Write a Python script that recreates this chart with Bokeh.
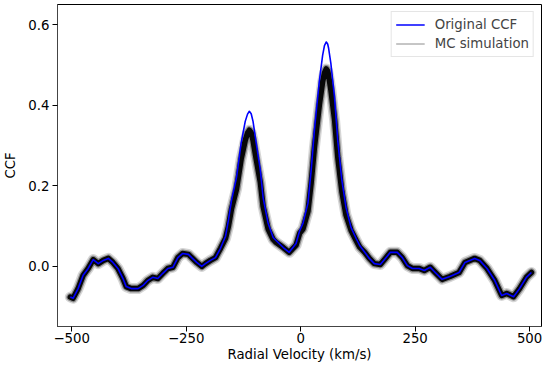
from bokeh.plotting import figure
from bokeh.models import Range1d, FixedTicker, Legend, LegendItem, CustomJSTickFormatter
from bokeh.embed import file_html
from bokeh.resources import INLINE

# Radial velocity grid (km/s)
rv = [-503, -497, -486, -475, -464, -453, -442, -431, -420, -410, -399, -388, -381, -370,
      -355, -344, -334, -323, -312, -301, -290, -279, -268, -258, -245, -238, -227, -216,
      -208, -197, -186, -175, -164, -158, -151, -140, -130, -121, -116, -112, -108, -104,
      -97, -88, -82, -71, -60, -54, -38, -25, -10, -2, 5, 16, 23, 30, 41, 48, 52, 56, 59,
      61, 66, 74, 81, 90, 99, 110, 121, 129, 140, 150, 161, 174, 185, 196, 211, 222, 233,
      244, 259, 270, 283, 294, 309, 326, 346, 359, 380, 391, 407, 424, 439, 450, 465, 478,
      493, 504]

# Original CCF (blue)
ccf = [-0.076, -0.079, -0.055, -0.022, -0.005, 0.017, 0.007, 0.015, 0.020, 0.010, -0.005,
       -0.030, -0.050, -0.055, -0.055, -0.047, -0.035, -0.027, -0.030, -0.017, -0.005,
       -0.002, 0.022, 0.032, 0.030, 0.022, 0.010, 0.000, 0.007, 0.015, 0.022, 0.045, 0.075,
       0.113, 0.164, 0.221, 0.306, 0.360, 0.378, 0.385, 0.379, 0.360, 0.306, 0.239, 0.171,
       0.107, 0.072, 0.065, 0.047, 0.035, 0.057, 0.089, 0.107, 0.157, 0.239, 0.338, 0.462,
       0.524, 0.548, 0.557, 0.552, 0.542, 0.504, 0.420, 0.313, 0.214, 0.147, 0.097, 0.070,
       0.052, 0.035, 0.020, 0.007, 0.005, 0.020, 0.035, 0.035, 0.022, 0.002, -0.005, -0.005,
       -0.010, -0.002, -0.015, -0.032, -0.025, -0.015, 0.010, 0.020, 0.015, -0.005, -0.035,
       -0.072, -0.067, -0.075, -0.055, -0.027, -0.015]

# Centre of the Monte Carlo simulation band (black/grey)
mc_mean = [-0.076, -0.079, -0.055, -0.022, -0.005, 0.017, 0.007, 0.015, 0.020, 0.010, -0.005,
           -0.030, -0.050, -0.055, -0.055, -0.047, -0.035, -0.027, -0.030, -0.017, -0.005,
           -0.002, 0.022, 0.032, 0.030, 0.022, 0.010, 0.000, 0.007, 0.015, 0.022, 0.045, 0.070,
           0.098, 0.143, 0.192, 0.266, 0.313, 0.331, 0.338, 0.332, 0.313, 0.266, 0.208, 0.149,
           0.093, 0.067, 0.060, 0.047, 0.035, 0.053, 0.083, 0.093, 0.137, 0.208, 0.294, 0.402,
           0.458, 0.480, 0.490, 0.485, 0.474, 0.438, 0.365, 0.272, 0.186, 0.128, 0.090, 0.065,
           0.048, 0.035, 0.020, 0.007, 0.005, 0.020, 0.035, 0.035, 0.022, 0.002, -0.005, -0.005,
           -0.010, -0.002, -0.015, -0.032, -0.025, -0.015, 0.010, 0.020, 0.015, -0.005, -0.035,
           -0.072, -0.067, -0.075, -0.055, -0.027, -0.015]

x_ticks = [-500, -250, 0, 250, 500]
y_ticks = [0.0, 0.2, 0.4, 0.6]

FONT = "DejaVu Sans"
FS = "13.3px"

p = figure(width=543, height=365, output_backend="svg", toolbar_location=None,
           x_range=Range1d(-531, 526), y_range=Range1d(-0.149, 0.650),
           min_border_left=54, min_border_right=2, min_border_top=4, min_border_bottom=39)

p.background_fill_color = "white"
p.border_fill_color = "white"
p.grid.visible = False
p.outline_line_color = "black"
p.outline_line_width = 1

# MC band: grey fringe + dark core
p.line(rv, mc_mean, line_width=11, color="black", alpha=0.16, line_join="round", line_cap="round")
p.line(rv, mc_mean, line_width=8, color="black", alpha=0.35, line_join="round", line_cap="round")
mc_thin = p.line(rv, mc_mean, line_width=1, color="#8c8c8c")
p.line(rv, mc_mean, line_width=5.5, color="black", alpha=0.95, line_join="round", line_cap="round")
blue = p.line(rv, ccf, line_width=1.6, color="#0000ff", line_join="round")

legend = Legend(items=[LegendItem(label="Original CCF", renderers=[blue]),
                       LegendItem(label="MC simulation", renderers=[mc_thin])],
                location="top_right")
legend.label_text_font = FONT
legend.label_text_font_size = FS
legend.glyph_width = 29
legend.glyph_height = 17
legend.label_height = 17
legend.label_standoff = 10
legend.padding = 4
legend.spacing = 2
legend.margin = 7
legend.border_line_color = "#cccccc"
legend.border_line_width = 1
legend.background_fill_alpha = 0.8
p.add_layout(legend)

p.xaxis.ticker = FixedTicker(ticks=x_ticks)
p.yaxis.ticker = FixedTicker(ticks=y_ticks)
p.xaxis.formatter = CustomJSTickFormatter(code="return tick < 0 ? '\u2212' + Math.abs(tick) : String(tick);")
p.yaxis.formatter = CustomJSTickFormatter(code="return tick.toFixed(1);")

p.xaxis.axis_label = "Radial Velocity (km/s)"
p.yaxis.axis_label = "CCF"
for ax in (p.xaxis, p.yaxis):
    ax.axis_label_text_font = FONT
    ax.axis_label_text_font_size = FS
    ax.axis_label_text_font_style = "normal"
    ax.axis_label_text_color = "black"
    ax.major_label_text_font = FONT
    ax.major_label_text_font_size = FS
    ax.major_label_text_color = "black"
    ax.minor_tick_line_color = None
    ax.major_tick_in = 0
    ax.major_tick_out = 5
    ax.major_tick_line_color = "black"
    ax.axis_line_color = "#444444"
p.xaxis.major_label_standoff = 1
p.yaxis.major_label_standoff = 3
p.xaxis.axis_label_standoff = 1
p.yaxis.axis_label_standoff = 7

open("out.html", "w").write(file_html(p, INLINE))
